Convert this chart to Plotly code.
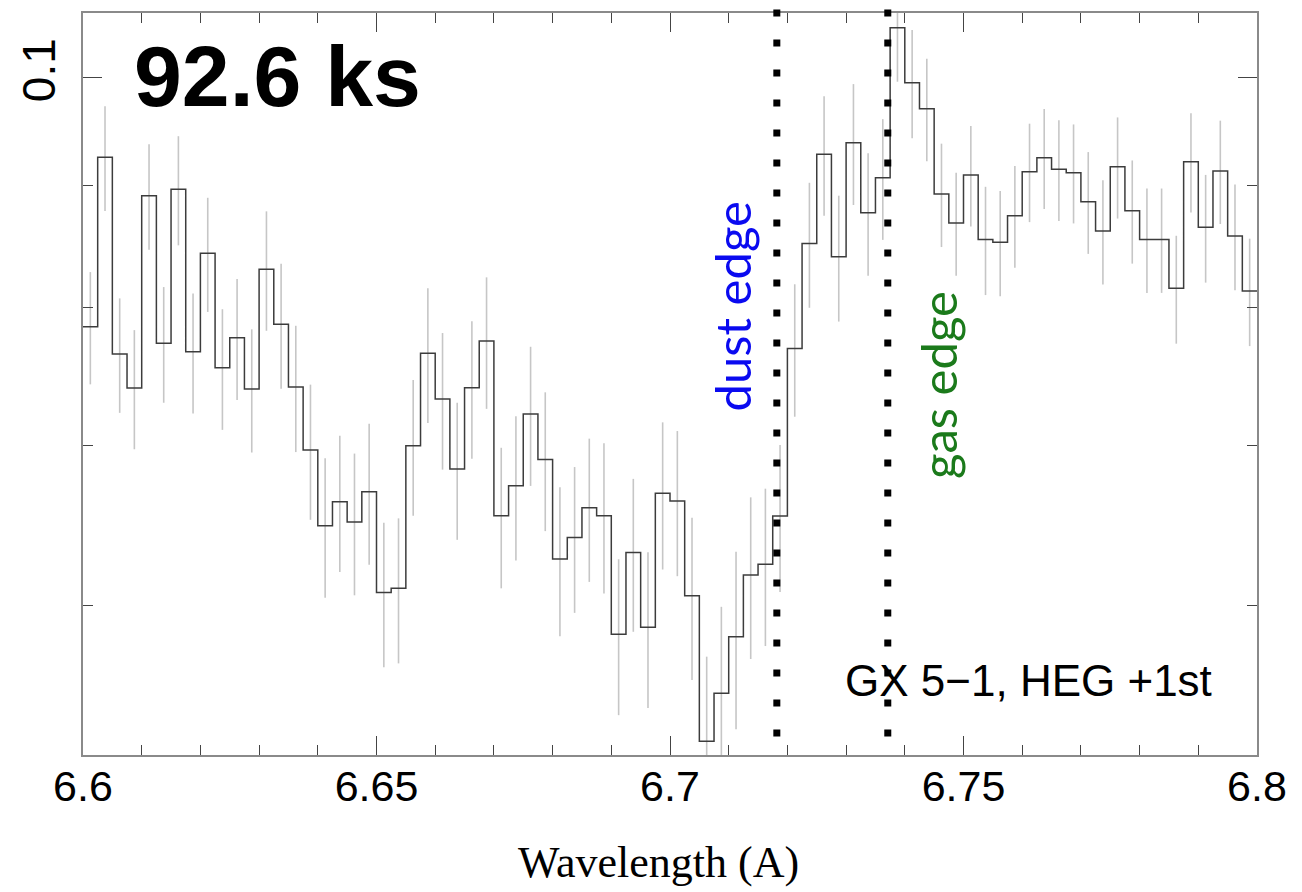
import numpy as np
import plotly.graph_objects as go

# Bin centres of the HEG +1st order spectrum (Angstrom), 0.0025 A bins
wavelength = [
    6.60125, 6.60375, 6.60625, 6.60875, 6.61125, 6.61375, 6.61625, 6.61875,
    6.62125, 6.62375, 6.62625, 6.62875, 6.63125, 6.63375, 6.63625, 6.63875,
    6.64125, 6.64375, 6.64625, 6.64875, 6.65125, 6.65375, 6.65625, 6.65875,
    6.66125, 6.66375, 6.66625, 6.66875, 6.67125, 6.67375, 6.67625, 6.67875,
    6.68125, 6.68375, 6.68625, 6.68875, 6.69125, 6.69375, 6.69625, 6.69875,
    6.70125, 6.70375, 6.70625, 6.70875, 6.71125, 6.71375, 6.71625, 6.71875,
    6.72125, 6.72375, 6.72625, 6.72875, 6.73125, 6.73375, 6.73625, 6.73875,
    6.74125, 6.74375, 6.74625, 6.74875, 6.75125, 6.75375, 6.75625, 6.75875,
    6.76125, 6.76375, 6.76625, 6.76875, 6.77125, 6.77375, 6.77625, 6.77875,
    6.78125, 6.78375, 6.78625, 6.78875, 6.79125, 6.79375, 6.79625, 6.79875,
]

flux = [
    0.07855, 0.09253, 0.07650, 0.07403, 0.08916, 0.07730, 0.08971, 0.07667, 0.08433, 0.07549,
    0.07772, 0.07395, 0.08303, 0.07873, 0.07410, 0.06972, 0.06480, 0.06632, 0.06503, 0.06696,
    0.06075, 0.06099, 0.07001, 0.07655, 0.07324, 0.06845, 0.07405, 0.07747, 0.06543, 0.06735,
    0.07219, 0.06909, 0.06274, 0.06407, 0.06593, 0.06543, 0.05834, 0.06314, 0.05874, 0.06686,
    0.06636, 0.06056, 0.05260, 0.05510, 0.05820, 0.06178, 0.06242, 0.06541, 0.07692, 0.08514,
    0.09280, 0.08405, 0.09384, 0.08770, 0.09072, 0.10488, 0.09945, 0.09698, 0.08930, 0.08683,
    0.09096, 0.08546, 0.08523, 0.08745, 0.09125, 0.09249, 0.09146, 0.09116, 0.08864, 0.08616,
    0.09169, 0.08787, 0.08547, 0.08547, 0.08152, 0.09214, 0.08647, 0.09131, 0.08575, 0.08131,
]

flux_err = [
    0.00426, 0.00468, 0.00423, 0.00426, 0.00454, 0.00432, 0.00473, 0.00445, 0.00465, 0.00440,
    0.00454, 0.00440, 0.00479, 0.00475, 0.00452, 0.00455, 0.00436, 0.00436, 0.00445, 0.00456,
    0.00424, 0.00427, 0.00459, 0.00498, 0.00483, 0.00453, 0.00492, 0.00492, 0.00444, 0.00469,
    0.00485, 0.00463, 0.00451, 0.00451, 0.00456, 0.00474, 0.00439, 0.00466, 0.00441, 0.00475,
    0.00465, 0.00474, 0.00449, 0.00481, 0.00498, 0.00482, 0.00474, 0.00464, 0.00492, 0.00514,
    0.00535, 0.00511, 0.00548, 0.00519, 0.00529, 0.00533, 0.00520, 0.00480, 0.00446, 0.00432,
    0.00442, 0.00447, 0.00433, 0.00430, 0.00434, 0.00447, 0.00445, 0.00436, 0.00436, 0.00434,
    0.00448, 0.00438, 0.00431, 0.00431, 0.00425, 0.00441, 0.00450, 0.00456, 0.00438, 0.00422,
]

edge_positions = [6.7182, 6.7371]          # dust edge, gas edge (A)
x_tick_vals = [6.6, 6.65, 6.7, 6.75, 6.8]
x_tick_text = ["6.6", "6.65", "6.7", "6.75", "6.8"]
y_tick_vals = [0.1]
y_tick_text = ["0.1"]
y_minor_vals = [0.06, 0.07, 0.08, 0.09]

# histogram step outline built from the bin centres
wl = np.array(wavelength)
half = (wl[1] - wl[0]) / 2.0
step_x = np.append(wl - half, wl[-1] + half)
step_y = np.append(np.array(flux), flux[-1])

W, H = 1302, 892
L, R, T, B = 83, 45, 13, 137
PW, PH = W - L - R, H - T - B


def px(xp):
    return (xp - L) / PW


def py(yp):
    return (H - B - yp) / PH


fig = go.Figure()

fig.add_trace(go.Scatter(
    x=wavelength, y=flux, mode="markers",
    marker=dict(size=1, color="rgba(0,0,0,0)"),
    error_y=dict(type="data", array=flux_err, color="#c6c6c6", thickness=1.6, width=0),
    showlegend=False, hoverinfo="skip",
))

fig.add_trace(go.Scatter(
    x=step_x, y=step_y, mode="lines", line_shape="hv",
    line=dict(color="#3c3c3c", width=1.5),
    showlegend=False, hoverinfo="skip",
))

for e in edge_positions:
    fig.add_shape(type="line", xref="x", yref="paper", x0=e, x1=e,
                  y0=1 + 3.5 / PH, y1=0,
                  line=dict(color="black", width=7, dash="7px,23px"), layer="above")

x_tick_font = dict(family="Liberation Sans, Arial, sans-serif", size=43, color="black")
y_tick_font = dict(family="Liberation Sans, Arial, sans-serif", size=46, color="black")

fig.update_xaxes(
    range=[6.6, 6.8], tickmode="array", tickvals=x_tick_vals, ticktext=x_tick_text,
    ticks="inside", ticklen=19, tickwidth=1.3, tickcolor="#444",
    showline=True, linecolor="#8a8a8a", linewidth=1.5, mirror="ticks",
    showgrid=False, zeroline=False, tickfont=x_tick_font, ticklabelstandoff=-7,
    minor=dict(ticks="inside", dtick=0.01, tick0=6.6, ticklen=10, tickwidth=1.3,
               tickcolor="#444", showgrid=False),
)

fig.update_yaxes(
    type="log", range=[-1.28474, -0.97310], tickmode="array",
    tickvals=y_tick_vals, ticktext=y_tick_text, tickangle=-90,
    ticks="inside", ticklen=19, tickwidth=1.3, tickcolor="#444",
    showline=True, linecolor="#8a8a8a", linewidth=1.5, mirror="ticks",
    showgrid=False, zeroline=False, tickfont=y_tick_font, ticklabelstandoff=8,
    minor=dict(ticks="inside", tickmode="array", tickvals=y_minor_vals, ticklen=10,
               tickwidth=1.3, tickcolor="#444", showgrid=False),
)

annotations = [
    dict(text="<b>92.6 ks</b>", x=px(131.5), y=py(76), xanchor="left", yanchor="middle",
         font=dict(family="Liberation Sans, Arial, sans-serif", size=86, color="black")),
    dict(text="GX 5\u22121, HEG +1st", x=px(1028.5), y=py(680), xanchor="center", yanchor="middle",
         font=dict(family="Liberation Sans, Arial, sans-serif", size=44, color="black")),
    dict(text="dust edge", x=px(731), y=py(306.5), textangle=-90, xanchor="center", yanchor="middle",
         font=dict(family="Lato, sans-serif", size=49, color="#0a0af0")),
    dict(text="gas edge", x=px(938), y=py(385), textangle=-90, xanchor="center", yanchor="middle",
         font=dict(family="Lato, sans-serif", size=49, color="#1b7a1b")),
    dict(text="Wavelength (A)", x=px(658), y=py(862), xanchor="center", yanchor="middle",
         font=dict(family="Liberation Serif, Times New Roman, serif", size=44, color="black")),
]
for a in annotations:
    a.update(xref="paper", yref="paper", showarrow=False)
fig.update_layout(annotations=annotations)

fig.update_layout(
    width=W, height=H, autosize=False,
    margin=dict(l=L, r=R, t=T, b=B, pad=0),
    paper_bgcolor="white", plot_bgcolor="white",
    showlegend=False,
)

fig.write_html("out.html")
